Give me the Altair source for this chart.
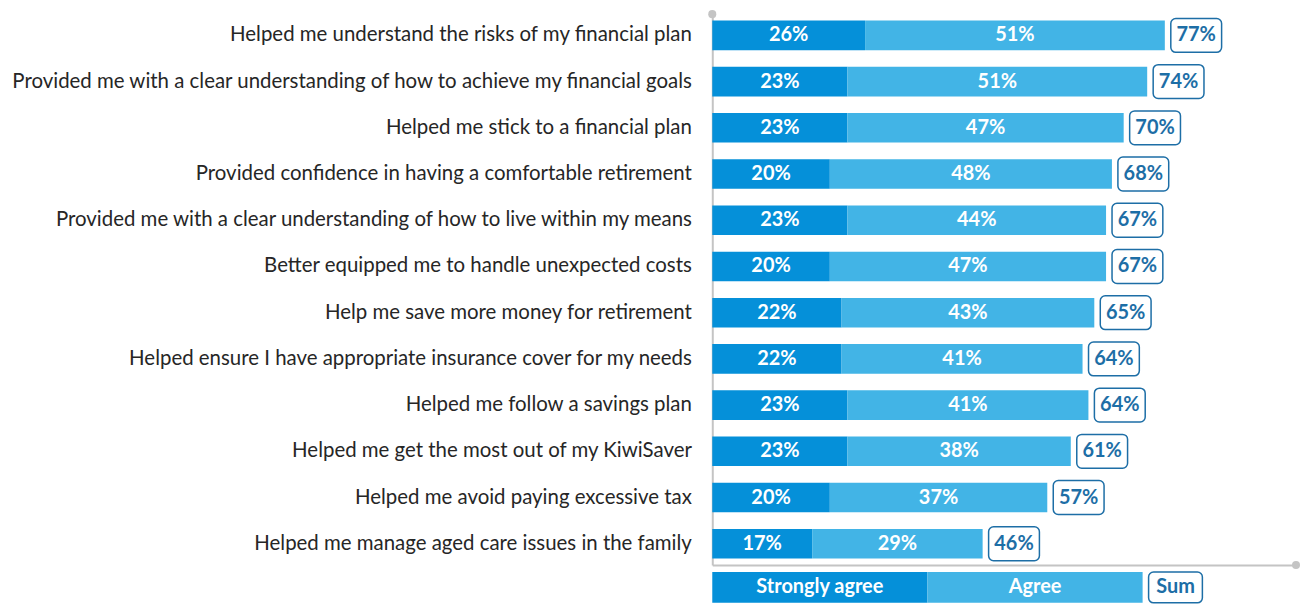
import altair as alt
import pandas as pd

categories = [
    "Helped me understand the risks of my financial plan",
    "Provided me with a clear understanding of how to achieve my financial goals",
    "Helped me stick to a financial plan",
    "Provided confidence in having a comfortable retirement",
    "Provided me with a clear understanding of how to live within my means",
    "Better equipped me to handle unexpected costs\u00a0",
    "Help me save more money for retirement",
    "Helped ensure I have appropriate insurance cover for my needs",
    "Helped me follow a savings plan",
    "Helped me get the most out of my KiwiSaver",
    "Helped me avoid paying excessive tax\u00a0",
    "Helped me manage aged care issues in the family\u00a0",
]
strongly_agree = [26, 23, 23, 20, 23, 20, 22, 22, 23, 23, 20, 17]
agree = [51, 51, 47, 48, 44, 47, 43, 41, 41, 38, 37, 29]
sums = [77, 74, 70, 68, 67, 67, 65, 64, 64, 61, 57, 46]

legend_labels = ["Strongly agree", "Agree", "Sum"]

DARK = "#0590d9"
LIGHT = "#42b4e6"
SUMC = "#1d6ea6"
GRAY = "#c4c4c4"
FONT = "Lato"

PX = 5.9          # pixels per percent
W = 586
H = 553
XMAX = W / PX

df = pd.DataFrame({"cat": categories, "sa": strongly_agree, "ag": agree, "total": sums})
df["end"] = df["sa"] + df["ag"]
df["sa_mid"] = df["sa"] / 2
df["ag_mid"] = df["sa"] + df["ag"] / 2
df["box0"] = df["end"] + 6 / PX
df["box1"] = df["box0"] + 51 / PX
df["box_mid"] = (df["box0"] + df["box1"]) / 2
df["sa_lbl"] = df["sa"].astype(str) + "%"
df["ag_lbl"] = df["ag"].astype(str) + "%"
df["sum_lbl"] = df["total"].astype(str) + "%"

xscale = alt.Scale(domain=[0, XMAX], nice=False, zero=True)
yscale = alt.Scale(paddingInner=0.36, paddingOuter=0.14)

base = alt.Chart(df)
yenc = alt.Y(
    "cat:N",
    sort=categories,
    scale=yscale,
    title=None,
    axis=alt.Axis(
        ticks=False,
        labelPadding=21,
        labelFontSize=20.5,
        labelFont=FONT,
        labelColor="#262626",
        labelLimit=0,
        minExtent=696,
        maxExtent=696,
        domainColor=GRAY,
        domainWidth=2,
        grid=False,
    ),
)
xaxis = alt.Axis(labels=False, ticks=False, grid=False, title=None,
                 domainColor=GRAY, domainWidth=2, maxExtent=0, minExtent=0)

bar_sa = base.mark_bar(color=DARK).encode(
    x=alt.X("sa:Q", scale=xscale, axis=xaxis), y=yenc
)
bar_ag = base.mark_bar(color=LIGHT).encode(x="sa:Q", x2="end:Q", y=yenc)
box = base.mark_bar(size=34, cornerRadius=5, fill="white", stroke=SUMC, strokeWidth=1.5).encode(
    x="box0:Q", x2="box1:Q", y=yenc
)
txt_sa = base.mark_text(color="white", fontWeight="bold", fontSize=20, font=FONT).encode(
    x="sa_mid:Q", y=yenc, text="sa_lbl:N"
)
txt_ag = base.mark_text(color="white", fontWeight="bold", fontSize=20, font=FONT).encode(
    x="ag_mid:Q", y=yenc, text="ag_lbl:N"
)
txt_sum = base.mark_text(color=SUMC, fontWeight="bold", fontSize=20, font=FONT).encode(
    x="box_mid:Q", y=yenc, text="sum_lbl:N"
)

dots_df = pd.DataFrame({"d": [0]})
dot_top = alt.Chart(dots_df).mark_point(filled=True, color=GRAY, size=65, opacity=1).encode(
    x=alt.value(0), y=alt.value(0)
)
dot_right = alt.Chart(dots_df).mark_point(filled=True, color=GRAY, size=65, opacity=1).encode(
    x=alt.value(W), y=alt.value(H)
)

main = alt.layer(bar_sa, bar_ag, box, txt_sa, txt_ag, txt_sum, dot_top, dot_right).properties(
    width=W, height=H
)

# legend row
leg_w = 216 / PX
leg = pd.DataFrame({
    "label": legend_labels,
    "start": [0, leg_w, 2 * leg_w + 6 / PX],
})
leg["stop"] = [leg_w, 2 * leg_w, leg["start"][2] + 54 / PX]
leg["mid"] = (leg["start"] + leg["stop"]) / 2

lbase = alt.Chart(leg)
lx = alt.X("start:Q", scale=xscale, axis=None)
leg_fill = lbase.transform_filter(alt.datum.label != "Sum").mark_rect().encode(
    x=lx, x2="stop:Q",
    color=alt.Color("label:N", scale=alt.Scale(domain=legend_labels[:2], range=[DARK, LIGHT]), legend=None),
)
leg_box = lbase.transform_filter(alt.datum.label == "Sum").mark_rect(
    cornerRadius=5, fill="white", stroke=SUMC, strokeWidth=1.5
).encode(x=lx, x2="stop:Q")
leg_txt = lbase.mark_text(fontWeight="bold", fontSize=20, font=FONT).encode(
    x=alt.X("mid:Q", scale=xscale, axis=None),
    text="label:N",
    color=alt.Color("label:N", scale=alt.Scale(domain=legend_labels, range=["white", "white", SUMC]), legend=None),
)
legend = alt.layer(leg_fill, leg_box, leg_txt).properties(width=W, height=31).resolve_scale(color="independent")

chart = alt.vconcat(main, legend, spacing=1).properties(
    padding={"left": 1, "top": 0, "right": 0, "bottom": 0}
).configure_view(stroke=None)

chart.save("out.html", embed_options={"renderer": "svg", "actions": False})
